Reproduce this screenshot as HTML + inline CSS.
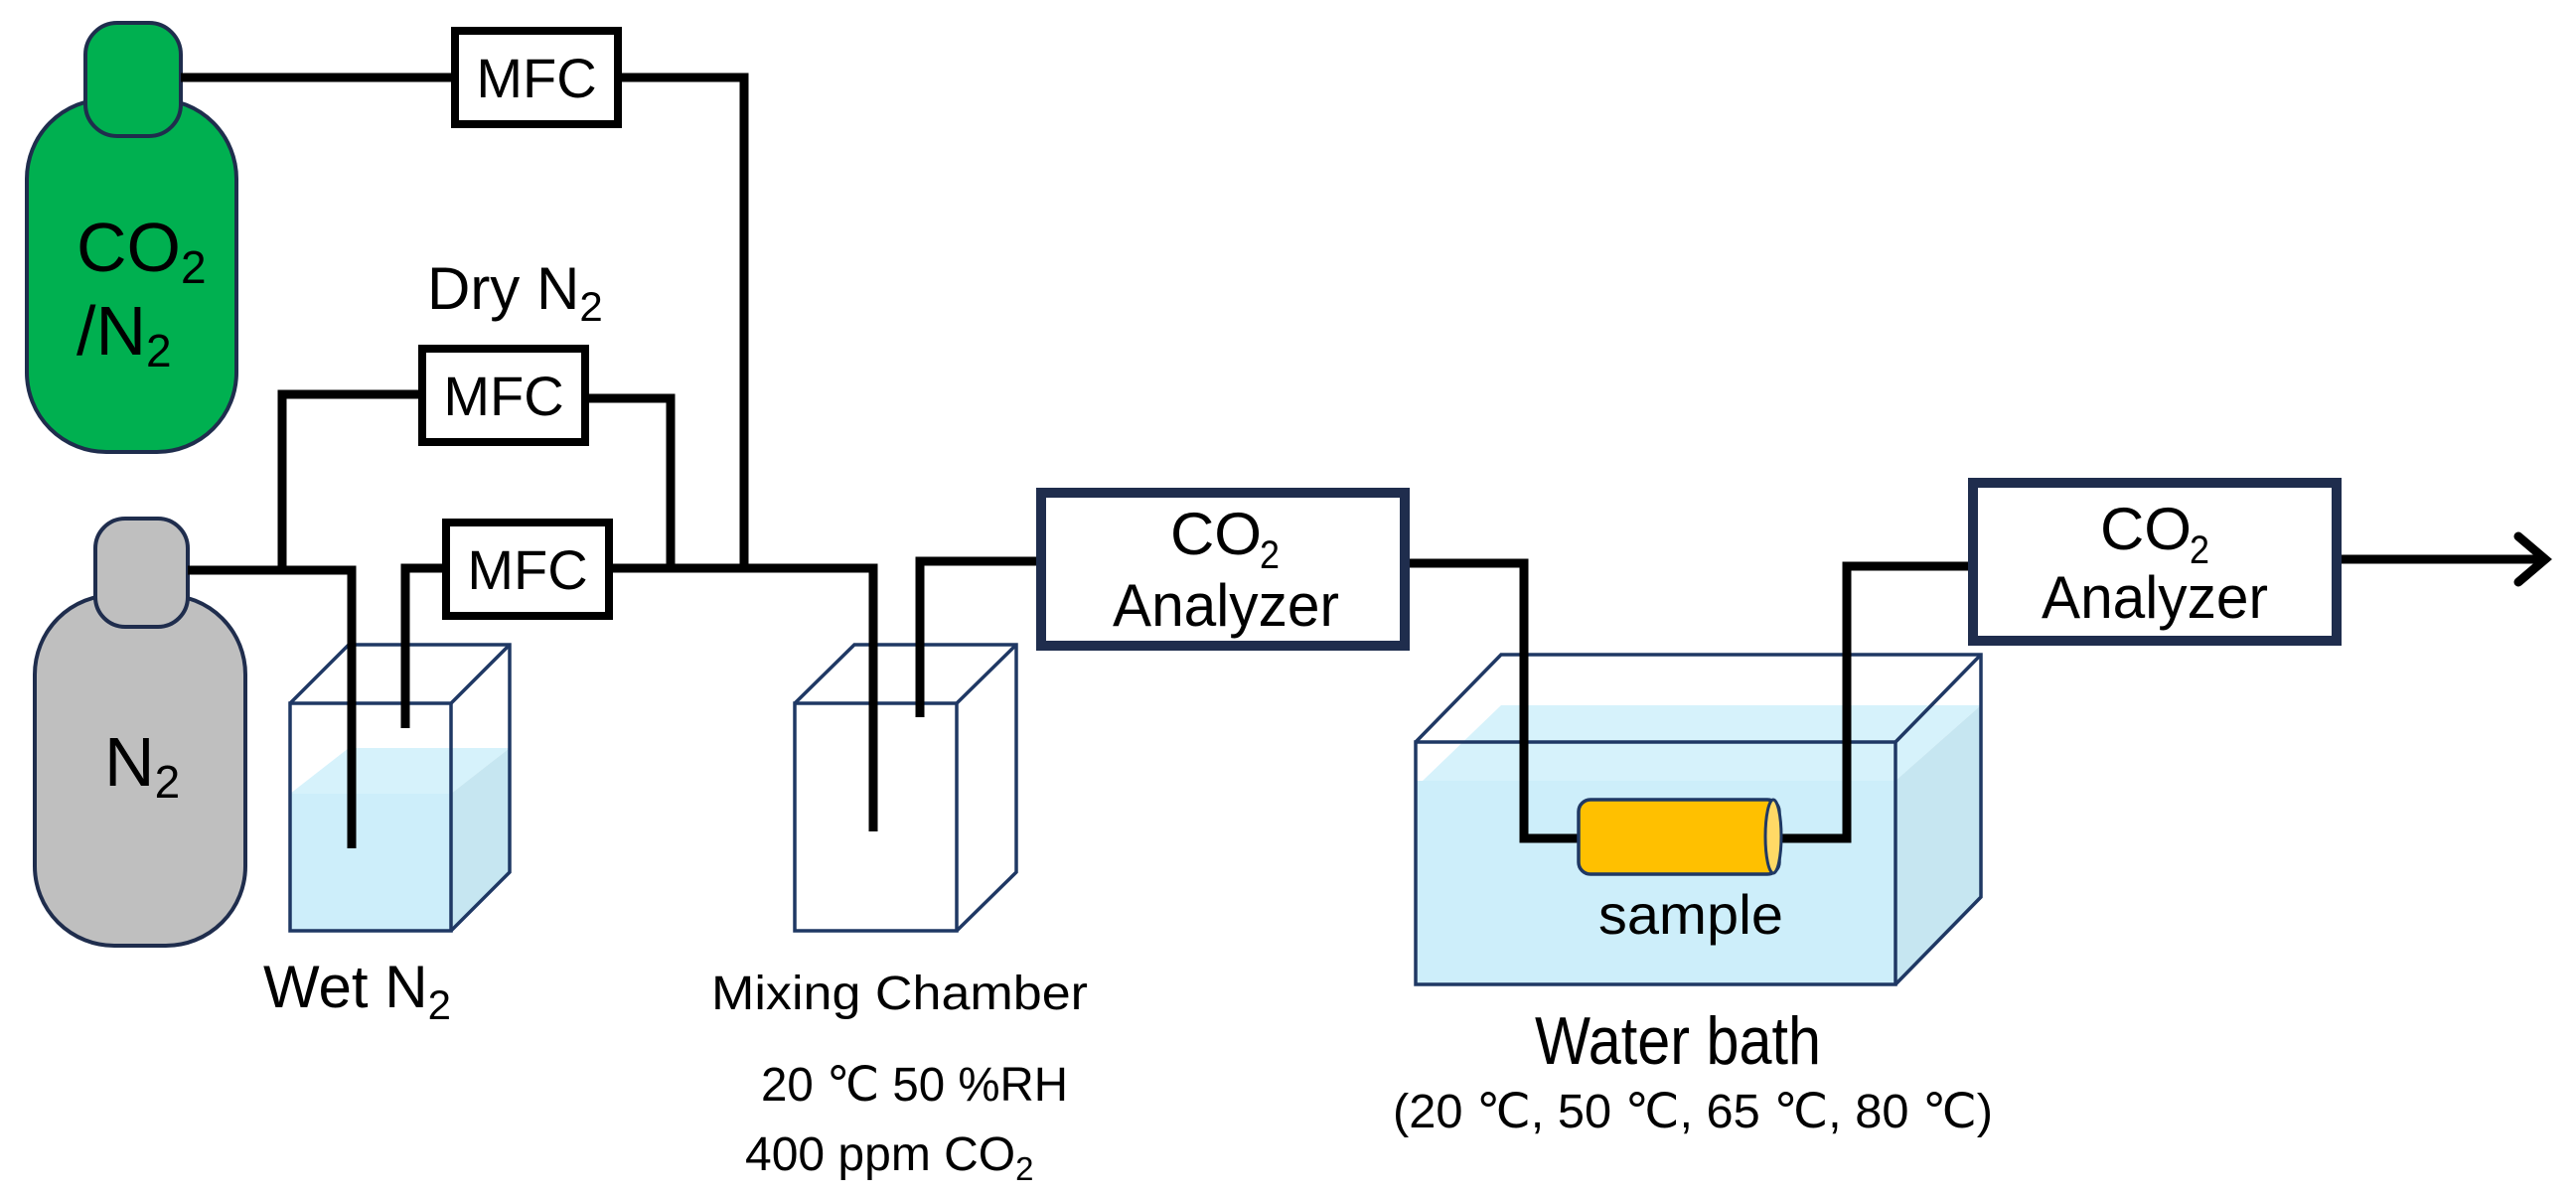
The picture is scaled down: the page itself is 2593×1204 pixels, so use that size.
<!DOCTYPE html>
<html><head><meta charset="utf-8"><style>
html,body{margin:0;padding:0;background:#fff}
svg{display:block}
text{font-family:"Liberation Sans",sans-serif;fill:#000}
</style></head><body>
<svg width="2593" height="1204" viewBox="0 0 2593 1204" xmlns="http://www.w3.org/2000/svg">
<!-- bottles -->
<rect x="27" y="100" width="211" height="355" rx="80" fill="#00b050" stroke="#1f2d4d" stroke-width="4"/>
<rect x="86" y="23" width="96" height="114" rx="32" fill="#00b050" stroke="#1f2d4d" stroke-width="4"/>
<rect x="35" y="599" width="212" height="353" rx="80" fill="#bfbfbf" stroke="#1f2d4d" stroke-width="4"/>
<rect x="96" y="522" width="93" height="109" rx="30" fill="#bfbfbf" stroke="#1f2d4d" stroke-width="4"/>
<text x="77" y="273" font-size="70">CO<tspan font-size="46" dy="12">2</tspan></text>
<text x="77" y="357" font-size="70">/N<tspan font-size="46" dy="12">2</tspan></text>
<text x="105" y="791" font-size="70">N<tspan font-size="46" dy="12">2</tspan></text>

<!-- wet box -->
<rect x="292" y="799" width="162" height="138" fill="#cdeefa"/>
<polygon points="292,799 454,799 513,753 351,753" fill="#d6f2fb"/>
<polygon points="454,799 513,753 513,878 454,937" fill="#c6e6f1"/>
<g fill="none" stroke="#1f3864" stroke-width="3.5">
<rect x="292" y="708" width="162" height="229"/>
<polyline points="292,708 351,649 513,649 513,878 454,937"/>
<line x1="454" y1="708" x2="513" y2="649"/>
</g>
<!-- mixing box -->
<g fill="none" stroke="#1f3864" stroke-width="3.5">
<rect x="800" y="708" width="163" height="229"/>
<polyline points="800,708 860,649 1023,649 1023,878 963,937"/>
<line x1="963" y1="708" x2="1023" y2="649"/>
</g>
<!-- water bath -->
<rect x="1425" y="786" width="483" height="205" fill="#cdeefa"/>
<polygon points="1432,786 1908,786 1994,710 1511,710" fill="#d6f2fb"/>
<polygon points="1908,786 1994,710 1994,903 1908,991" fill="#c6e6f1"/>
<g fill="none" stroke="#1f3864" stroke-width="3.5">
<rect x="1425" y="747" width="483" height="244"/>
<polyline points="1425,747 1511,659 1994,659 1994,903 1908,991"/>
<line x1="1908" y1="747" x2="1994" y2="659"/>
</g>

<!-- pipes -->
<g fill="none" stroke="#000" stroke-width="9" stroke-linejoin="miter">
<polyline points="182,78 454,78"/>
<polyline points="626,78 749,78 749,572"/>
<polyline points="189,574 354,574 354,854"/>
<polyline points="284,574 284,397 421,397"/>
<polyline points="593,401 675,401 675,572"/>
<polyline points="408,733 408,572 445,572"/>
<polyline points="617,572 879,572 879,837"/>
<polyline points="926,722 926,565 1043,565"/>
<polyline points="1419,567 1534,567 1534,844 1589,844"/>
<polyline points="1791,844 1859,844 1859,570 1981,570"/>
<polyline points="2357,563 2560,563"/>
<polyline points="2535,540 2562,563 2535,586" stroke-linecap="round"/>
</g>

<!-- MFC boxes -->
<g fill="#fff" stroke="#000" stroke-width="8">
<rect x="458" y="31" width="164" height="94"/>
<rect x="425" y="351" width="164" height="94"/>
<rect x="449" y="526" width="164" height="94"/>
</g>
<text x="540" y="98" font-size="56" text-anchor="middle">MFC</text>
<text x="507" y="418" font-size="56" text-anchor="middle">MFC</text>
<text x="531" y="593" font-size="56" text-anchor="middle">MFC</text>

<!-- analyzers -->
<g fill="#fff" stroke="#1f2d4d" stroke-width="10">
<rect x="1048" y="496" width="366" height="154"/>
<rect x="1986" y="486" width="366" height="159"/>
</g>
<text x="1178" y="558" font-size="60" textLength="92" lengthAdjust="spacingAndGlyphs">CO</text>
<text x="1268" y="572" font-size="40" textLength="20" lengthAdjust="spacingAndGlyphs">2</text>
<text x="1120" y="630" font-size="60" textLength="228" lengthAdjust="spacingAndGlyphs">Analyzer</text>
<text x="2114" y="553" font-size="60" textLength="92" lengthAdjust="spacingAndGlyphs">CO</text>
<text x="2204" y="567" font-size="40" textLength="20" lengthAdjust="spacingAndGlyphs">2</text>
<text x="2055" y="622" font-size="60" textLength="228" lengthAdjust="spacingAndGlyphs">Analyzer</text>

<!-- sample -->
<rect x="1589" y="805" width="202" height="75" rx="12" fill="#ffc000" stroke="#1f3864" stroke-width="3.5"/>
<ellipse cx="1785" cy="842" rx="8" ry="37" fill="#ffd966" stroke="#1f3864" stroke-width="3"/>
<text x="1609" y="940" font-size="56" textLength="186" lengthAdjust="spacingAndGlyphs">sample</text>

<!-- labels -->
<text x="430" y="311" font-size="60">Dry N<tspan font-size="42" dy="12">2</tspan></text>
<text x="265" y="1014" font-size="60">Wet N<tspan font-size="42" dy="12">2</tspan></text>
<text x="716" y="1016" font-size="48" textLength="379" lengthAdjust="spacingAndGlyphs">Mixing Chamber</text>
<text x="766" y="1108" font-size="48" textLength="309" lengthAdjust="spacingAndGlyphs">20 ℃ 50 %RH</text>
<text x="750" y="1178" font-size="48">400 ppm CO<tspan font-size="33" dy="10">2</tspan></text>
<text x="1545" y="1071" font-size="68" textLength="288" lengthAdjust="spacingAndGlyphs">Water bath</text>
<text x="1402" y="1135" font-size="48" textLength="604" lengthAdjust="spacingAndGlyphs">(20 ℃, 50 ℃, 65 ℃, 80 ℃)</text>
</svg>
</body></html>
